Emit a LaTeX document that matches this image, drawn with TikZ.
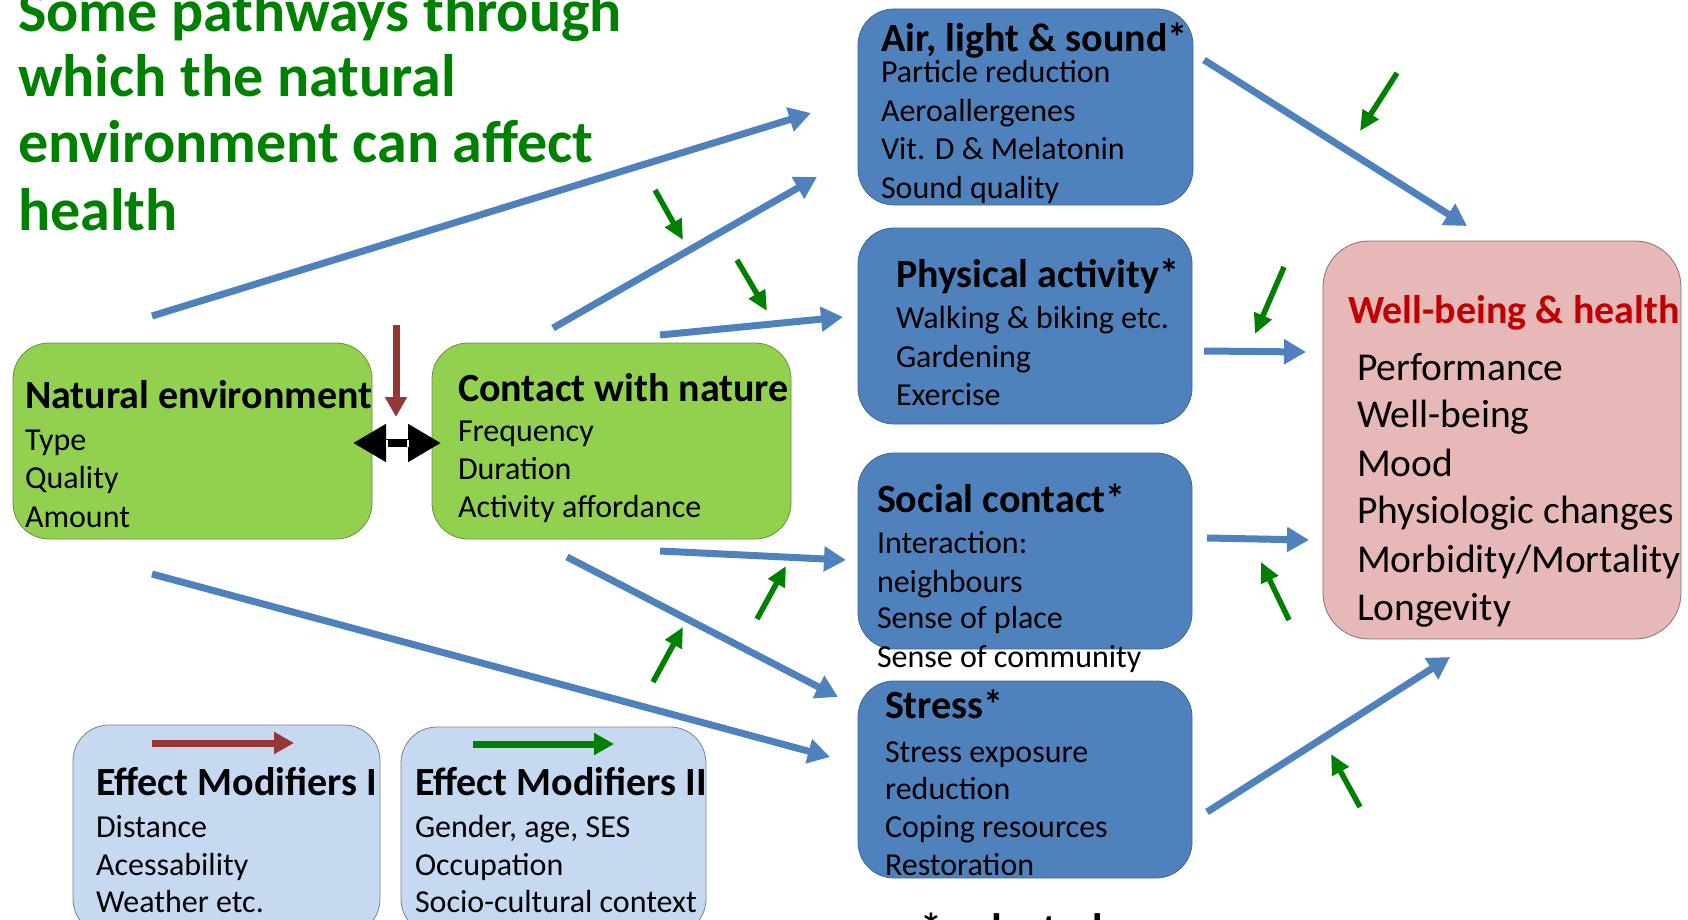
\documentclass[tikz,border=0pt]{standalone}
\usepackage{fontspec}
\setmainfont{Carlito}
\usetikzlibrary{arrows.meta}
\definecolor{titlegreen}{RGB}{0,128,0}
\definecolor{boxgreen}{RGB}{146,208,80}
\definecolor{boxblue}{RGB}{79,129,189}
\definecolor{boxpink}{RGB}{230,184,183}
\definecolor{boxlight}{RGB}{198,217,241}
\definecolor{wbred}{RGB}{192,0,0}
\definecolor{arrred}{RGB}{149,55,53}
\definecolor{arrgreen}{RGB}{0,128,0}
\newcommand\ttlfont{\fontsize{60}{66}\selectfont\bfseries}
\newcommand\hdfont{\fontsize{40}{46}\selectfont\bfseries}
\newcommand\bdyfont{\fontsize{32}{38}\selectfont}
\newcommand\wbfont{\fontsize{39.5}{48}\selectfont}
\begin{document}
\begin{tikzpicture}[x=1pt,y=-1pt,
  roundbox/.style={rectangle, rounded corners=36, line width=0.8, inner sep=0, outer sep=0},
  greenbox/.style={roundbox, fill=boxgreen, draw=boxgreen!70!black},
  bluebox/.style={roundbox, fill=boxblue, draw=boxblue!80!black},
  pinkbox/.style={roundbox, rounded corners=46, fill=boxpink, draw=boxpink!60!black},
  lightbox/.style={roundbox, fill=boxlight, draw=boxlight!60!black},
  txt/.style={anchor=base west, inner sep=0, outer sep=0},
  bluearr/.style={draw=boxblue, line width=7, -{Triangle[length=22,width=24]}},
  greenarr/.style={draw=arrgreen, line width=5.5, -{Triangle[length=20,width=18]}},
  redarr/.style={draw=arrred, line width=7, -{Triangle[length=20,width=21]}},
  blackarr/.style={draw=black, line width=8, {Triangle[length=33,width=36]}-{Triangle[length=33,width=36]}},
  notch/.style={draw=white, line width=1.4}
]
\useasboundingbox (0,0) rectangle (1688,920);
\clip (0,0) rectangle (1688,920);

% title
\node[txt, text=titlegreen] (t1) at (18,32) {\ttlfont Some pathways through};
\node[txt, text=titlegreen] (t2) at (18,97) {\ttlfont which the natural};
\node[txt, text=titlegreen] (t3) at (18,163) {\ttlfont environment can affect};
\node[txt, text=titlegreen] (t4) at (18,230) {\ttlfont health};

% boxes
\node[greenbox, minimum width=359, minimum height=196] (nat) at (192.5,441) {};
\node[greenbox, minimum width=359, minimum height=196] (con) at (611.5,441) {};
\node[bluebox, minimum width=335, minimum height=196] (air) at (1025.5,107) {};
\node[bluebox, minimum width=334, minimum height=196] (phy) at (1025,326) {};
\node[bluebox, minimum width=334, minimum height=196] (soc) at (1025,551) {};
\node[bluebox, minimum width=334, minimum height=197] (str) at (1025,779.5) {};
\node[pinkbox, minimum width=358, minimum height=398] (wb) at (1502,440) {};
\node[lightbox, minimum width=307, minimum height=210] (em1) at (226.5,830) {};
\node[lightbox, minimum width=305, minimum height=208] (em2) at (553.5,831) {};

% natural environment
\node[txt] (nat-h) at (25,408) {\hdfont Natural environment};
\node[txt] (nat-1) at (25,450) {\bdyfont Type};
\node[txt] (nat-2) at (25,488) {\bdyfont Quality};
\node[txt] (nat-3) at (25,527) {\bdyfont Amount};

% contact with nature
\node[txt] (con-h) at (458,401) {\hdfont Contact with nature};
\node[txt] (con-1) at (458,441) {\bdyfont Frequency};
\node[txt] (con-2) at (458,479) {\bdyfont Duration};
\node[txt] (con-3) at (458,517) {\bdyfont Activity affordance};

% air
\node[txt] (air-h) at (881,52) {\hdfont Air, light \& sound*};
\node[txt] (air-1) at (881,83) {\bdyfont Particle reduction};
\node[txt] (air-2) at (881,122) {\bdyfont Aeroallergenes};
\node[txt] (air-3) at (881,160) {\bdyfont Vit. D \& Melatonin};
\node[txt] (air-4) at (881,198) {\bdyfont Sound quality};

% physical
\node[txt] (phy-h) at (896,287) {\hdfont Physical activity*};
\node[txt] (phy-1) at (896,328) {\bdyfont Walking \& biking etc.};
\node[txt] (phy-2) at (896,367) {\bdyfont Gardening};
\node[txt] (phy-3) at (896,405) {\bdyfont Exercise};

% social
\node[txt] (soc-h) at (877,512) {\hdfont Social contact*};
\node[txt] (soc-1) at (877,553) {\bdyfont Interaction:};
\node[txt] (soc-2) at (877,592) {\bdyfont neighbours};
\node[txt] (soc-3) at (877,628) {\bdyfont Sense of place};
\node[txt] (soc-4) at (877,667) {\bdyfont Sense of community};

% stress
\node[txt] (str-h) at (885,718) {\hdfont Stress*};
\node[txt] (str-1) at (885,762) {\bdyfont Stress exposure};
\node[txt] (str-2) at (885,799) {\bdyfont reduction};
\node[txt] (str-3) at (885,837) {\bdyfont Coping resources};
\node[txt] (str-4) at (885,875) {\bdyfont Restoration};

% well-being
\node[txt, text=wbred] (wb-h) at (1348,323) {\hdfont Well-being \& health};
\node[txt] (wb-1) at (1357,380) {\wbfont Performance};
\node[txt] (wb-2) at (1357,427) {\wbfont Well-being};
\node[txt] (wb-3) at (1357,476) {\wbfont Mood};
\node[txt] (wb-4) at (1357,523) {\wbfont Physiologic changes};
\node[txt] (wb-5) at (1357,572) {\wbfont Morbidity/Mortality};
\node[txt] (wb-6) at (1357,620) {\wbfont Longevity};

% effect modifiers
\node[txt] (em1-h) at (96,795) {\hdfont Effect Modifiers I};
\node[txt] (em1-1) at (96,837) {\bdyfont Distance};
\node[txt] (em1-2) at (96,875) {\bdyfont Acessability};
\node[txt] (em1-3) at (96,912) {\bdyfont Weather etc.};
\node[txt] (em2-h) at (415,795) {\hdfont Effect Modifiers II};
\node[txt] (em2-1) at (415,837) {\bdyfont Gender, age, SES};
\node[txt] (em2-2) at (415,875) {\bdyfont Occupation};
\node[txt] (em2-3) at (415,912) {\bdyfont Socio-cultural context};

% footnote (cut off)
\node[txt] (foot) at (920,944) {\fontsize{44}{50}\selectfont\bfseries * selected};

% coordinates for arrows
\coordinate (b1s) at (152,316);  \coordinate (b1e) at (811,113);
\coordinate (b2s) at (553,328);  \coordinate (b2e) at (817,177);
\coordinate (b3s) at (660,335);  \coordinate (b3e) at (843,317);
\coordinate (b4s) at (660,551);  \coordinate (b4e) at (846,560);
\coordinate (b5s) at (567,557);  \coordinate (b5e) at (838,697);
\coordinate (b6s) at (152,574);  \coordinate (b6e) at (830,757);
\coordinate (b7s) at (1204,60);  \coordinate (b7e) at (1467,226);
\coordinate (b8s) at (1204,351); \coordinate (b8e) at (1306,352);
\coordinate (b9s) at (1207,538); \coordinate (b9e) at (1309,540);
\coordinate (b10s) at (1207,812); \coordinate (b10e) at (1450,657);

\coordinate (gas) at (655,190);  \coordinate (gae) at (683,240);
\coordinate (gbs) at (737,260);  \coordinate (gbe) at (767,311);
\coordinate (gcs) at (1397,73);  \coordinate (gce) at (1360,131);
\coordinate (gds) at (1284,267); \coordinate (gde) at (1255,334);
\coordinate (ges) at (1289,620); \coordinate (gee) at (1261,562);
\coordinate (gfs) at (1360,807); \coordinate (gfe) at (1331,754);
\coordinate (ggs) at (757,619);  \coordinate (gge) at (786,566);
\coordinate (ghs) at (653,682);  \coordinate (ghe) at (683,627);

\coordinate (rs) at (396,325); \coordinate (re) at (396,417);
\coordinate (dl) at (353,443); \coordinate (dr) at (441,443);
\coordinate (m1s) at (152,743); \coordinate (m1e) at (294,743);
\coordinate (m2s) at (473,744); \coordinate (m2e) at (614,744);
\coordinate (n1a) at (387,439.5); \coordinate (n1b) at (387,446.5);
\coordinate (n2a) at (408,439.5); \coordinate (n2b) at (408,446.5);

% blue arrows
\foreach \a in {b1,b2,b3,b4,b5,b6,b7,b8,b9,b10}
  \draw[bluearr] (\a s) -- (\a e);
% green arrows
\foreach \a in {ga,gb,gc,gd,ge,gf,gg,gh}
  \draw[greenarr] (\a s) -- (\a e);
% red arrow
\draw[redarr] (rs) -- (re);
% double arrow
\draw[blackarr] (dl) -- (dr);
\draw[notch] (n1a) -- (n1b);
\draw[notch] (n2a) -- (n2b);
% legend arrows
\draw[redarr] (m1s) -- (m1e);
\draw[greenarr, line width=7, -{Triangle[length=20,width=21]}] (m2s) -- (m2e);
\end{tikzpicture}
\end{document}
